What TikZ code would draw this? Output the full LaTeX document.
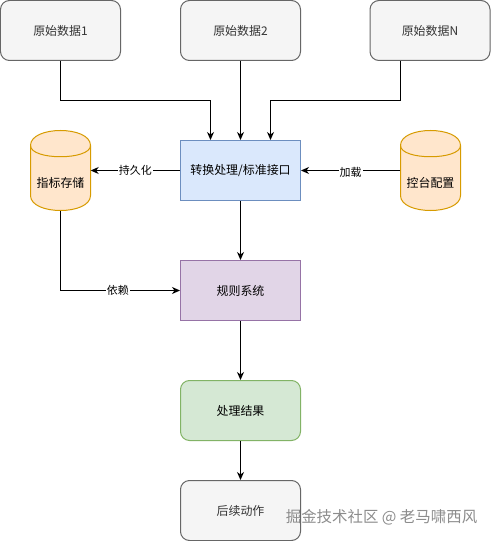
\documentclass[tikz,border=0pt]{standalone}
\usepackage{fontspec}
\setmainfont{Noto Sans CJK SC}
\usetikzlibrary{arrows.meta}
\definecolor{grayfill}{HTML}{F5F5F5}
\definecolor{graystroke}{HTML}{666666}
\definecolor{graytext}{HTML}{333333}
\definecolor{bluefill}{HTML}{DAE8FC}
\definecolor{bluestroke}{HTML}{6C8EBF}
\definecolor{orangefill}{HTML}{FFE6CC}
\definecolor{orangestroke}{HTML}{D79B00}
\definecolor{purplefill}{HTML}{E1D5E7}
\definecolor{purplestroke}{HTML}{9673A6}
\definecolor{greenfill}{HTML}{D5E8D4}
\definecolor{greenstroke}{HTML}{82B366}
\definecolor{wmark}{HTML}{8C8C8C}
\tikzset{
  base/.style={minimum width=120bp, minimum height=60bp, inner sep=0pt, line width=1bp, font=\fontsize{12}{14}\selectfont},
  graybox/.style={base, draw=graystroke, fill=grayfill, text=graytext, rounded corners=9bp},
  bluebox/.style={base, draw=bluestroke, fill=bluefill},
  purplebox/.style={base, draw=purplestroke, fill=purplefill},
  greenbox/.style={base, draw=greenstroke, fill=greenfill, rounded corners=9bp},
  cylnode/.style={minimum width=60bp, minimum height=80bp, inner sep=0pt},
  cyltext/.style={inner sep=0pt, font=\fontsize{12}{14}\selectfont},
  arr/.style={line width=1bp, -{Stealth[length=8bp,width=7bp,inset=2.5bp]}},
  elabel/.style={fill=white, inner sep=1bp, font=\fontsize{11}{13}\selectfont},
  cyl/.style={line width=1bp, draw=orangestroke, fill=orangefill}
}
\begin{document}
\begin{tikzpicture}[x=1bp,y=-1bp]
\useasboundingbox (0,0) rectangle (491,541);
\fill[white] (0,0) rectangle (491,541);
% source boxes
\node[graybox] (d1) at (60.5,30.5) {原始数据1};
\node[graybox] (d2) at (240.5,30.5) {原始数据2};
\node[graybox] (dn) at (430,30.5) {原始数据N};
% main boxes
\node[bluebox] (conv) at (240.5,170.5) {转换处理/标准接口};
\node[purplebox] (rule) at (240.5,290.5) {规则系统};
\node[greenbox] (res) at (240.5,410.5) {处理结果};
\node[graybox] (next) at (240.5,510.5) {后续动作};
% cylinders
\node[cylnode] (store) at (60.5,170.5) {};
\draw[cyl] (30.5,145.5) .. controls (30.5,125.5) and (90.5,125.5) .. (90.5,145.5) -- (90.5,195.5) .. controls (90.5,215.5) and (30.5,215.5) .. (30.5,195.5) -- cycle;
\draw[line width=1bp, draw=orangestroke] (30.5,145.5) .. controls (30.5,160.5) and (90.5,160.5) .. (90.5,145.5);
\node[cyltext] (storetext) at (60.5,183) {指标存储};
\node[cylnode] (cfg) at (430.5,170.5) {};
\draw[cyl] (400.5,145.5) .. controls (400.5,125.5) and (460.5,125.5) .. (460.5,145.5) -- (460.5,195.5) .. controls (460.5,215.5) and (400.5,215.5) .. (400.5,195.5) -- cycle;
\draw[line width=1bp, draw=orangestroke] (400.5,145.5) .. controls (400.5,160.5) and (460.5,160.5) .. (460.5,145.5);
\node[cyltext] (cfgtext) at (430.5,183) {控台配置};
% connectors
\draw[arr] (d1.south) -- (d1.south |- 0,100.5) -| ([xshift=-30bp]conv.north);
\draw[arr] (d2.south) -- (conv.north);
\draw[arr] (dn.south -| 400.5,0) -- (400.5,100.5) -| ([xshift=30bp]conv.north);
\draw[arr] (conv.west) -- node[elabel, pos=0.5] {持久化} (store.east);
\draw[arr] (cfg.west) -- node[elabel, pos=0.5, yshift=-2bp] {加载} (conv.east);
\draw[arr] (conv.south) -- (rule.north);
\draw[arr] (store.south) -- (60.5,290.5) -- node[elabel, pos=0.48] {依赖} (rule.west);
\draw[arr] (rule.south) -- (res.north);
\draw[arr] (res.south) -- (next.north);
% watermark
\node[inner sep=0pt, text=wmark, font=\fontsize{15.5}{18}\selectfont] (wm) at (381.5,517) {掘金技术社区 @ 老马啸西风};
\end{tikzpicture}
\end{document}
